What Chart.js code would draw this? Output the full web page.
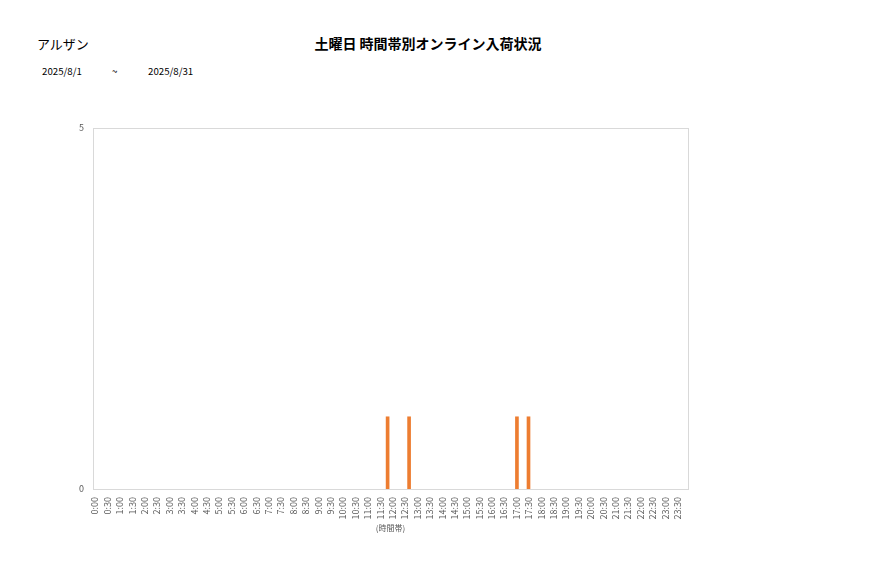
<!DOCTYPE html>
<html>
<head>
<meta charset="utf-8">
<script src="https://cdn.jsdelivr.net/npm/chart.js@4.4.1/dist/chart.umd.min.js"></script>
<style>
    html, body { margin: 0; padding: 0; background: #fff; }
    body { width: 877px; height: 578px; position: relative; overflow: hidden;
           font-family: "Noto Sans CJK JP", "Noto Sans", sans-serif; color: #000; }
    #wrap { position: absolute; left: 0; top: 0; width: 877px; height: 578px; }
    .txt { position: absolute; white-space: nowrap; }
    #store { left: 37px; top: 34px; font-size: 13px; }
    #title { left: 0; width: 856px; text-align: center; top: 33px; font-size: 14px; font-weight: bold; }
    .date { top: 64px; font-size: 9.7px; }
</style>
</head>
<body>
<div class="txt" id="store">アルザン</div>
<div class="txt" id="title">土曜日 時間帯別オンライン入荷状況</div>
<div class="txt date" style="left:42px">2025/8/1</div>
<div class="txt date" style="left:112px">~</div>
<div class="txt date" style="left:148px">2025/8/31</div>
<div id="wrap"><canvas id="arrivalChart" width="877" height="578"></canvas></div>
<script>
// 30分刻みの目盛りラベル
const tickLabels = ['0:00','0:30','1:00','1:30','2:00','2:30','3:00','3:30','4:00','4:30','5:00','5:30',
    '6:00','6:30','7:00','7:30','8:00','8:30','9:00','9:30','10:00','10:30','11:00','11:30',
    '12:00','12:30','13:00','13:30','14:00','14:30','15:00','15:30','16:00','16:30','17:00','17:30',
    '18:00','18:30','19:00','19:30','20:00','20:30','21:00','21:30','22:00','22:30','23:00','23:30'];

// 入荷時刻と件数
const arrivalTimes = ['11:53', '12:45', '17:06', '17:34'];
const arrivalCounts = [1, 1, 1, 1];

const yTicks = [0, 5];

(function() {
    function toHours(t) {
        const p = t.split(':');
        return Number(p[0]) + Number(p[1]) / 60;
    }

    const points = arrivalTimes.map((t, i) => ({ x: toHours(t), y: arrivalCounts[i] }));

    const frame = {
        id: 'frame',
        afterDraw(chart) {
            const a = chart.chartArea;
            const c = chart.ctx;
            c.save();
            c.strokeStyle = '#d9d9d9';
            c.lineWidth = 1;
            c.strokeRect(Math.round(a.left) + 0.5, Math.round(a.top) + 0.5,
                Math.round(a.right - a.left), Math.round(a.bottom - a.top));
            c.restore();
        }
    };

    const ctx = document.getElementById('arrivalChart');
    new Chart(ctx, {
        type: 'bar',
        data: {
            datasets: [{
                label: '入荷',
                data: points,
                backgroundColor: '#ED7D31',
                borderWidth: 0,
                barThickness: 3
            }]
        },
        options: {
            responsive: false,
            animation: false,
            layout: { padding: { left: 60, right: 189, top: 128, bottom: 45 } },
            plugins: { legend: { display: false }, tooltip: { enabled: false } },
            scales: {
                x: {
                    type: 'linear',
                    min: 0,
                    max: 24,
                    offset: false,
                    grid: { display: false, drawTicks: false },
                    border: { display: false },
                    afterBuildTicks(scale) {
                        scale.ticks = tickLabels.map((l, i) => ({ value: i / 2 }));
                    },
                    afterFit(scale) { scale.height = 44; },
                    ticks: {
                        autoSkip: false,
                        maxRotation: 90,
                        minRotation: 90,
                        padding: 8,
                        labelOffset: 2,
                        color: '#595959',
                        font: { family: 'Noto Sans CJK JP', size: 9 },
                        callback: (v) => tickLabels[Math.round(v * 2)]
                    },
                    title: {
                        display: true,
                        text: '(時間帯)',
                        color: '#595959',
                        font: { family: 'Noto Sans CJK JP', size: 8 },
                        padding: 0
                    }
                },
                y: {
                    min: 0,
                    max: 5,
                    grid: { display: false, drawTicks: false },
                    border: { display: false },
                    afterBuildTicks(scale) {
                        scale.ticks = yTicks.map(v => ({ value: v }));
                    },
                    afterFit(scale) { scale.width = 33; },
                    ticks: {
                        padding: 9,
                        color: '#595959',
                        font: { family: 'Noto Sans CJK JP', size: 9 }
                    }
                }
            }
        },
        plugins: [frame]
    });
})();
</script>
</body>
</html>
